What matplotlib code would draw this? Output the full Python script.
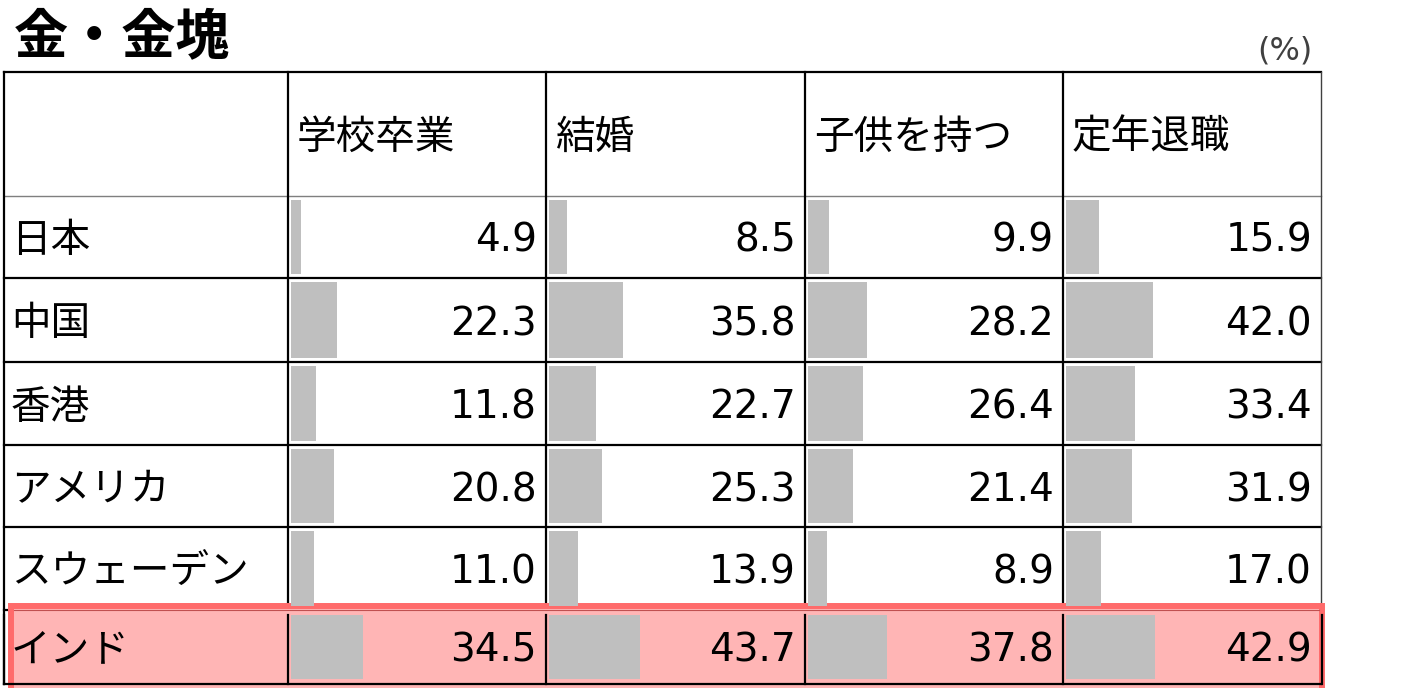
import matplotlib
matplotlib.use("Agg")
import matplotlib.pyplot as plt
from matplotlib.patches import Rectangle

plt.rcParams['font.family'] = ['Noto Sans CJK JP', 'DejaVu Sans']

# data
title = '金・金塊'
unit = '(%)'
countries = ['日本', '中国', '香港', 'アメリカ', 'スウェーデン', 'インド']
events = ['学校卒業', '結婚', '子供を持つ', '定年退職']
school = [4.9, 22.3, 11.8, 20.8, 11.0, 34.5]
marriage = [8.5, 35.8, 22.7, 25.3, 13.9, 43.7]
children = [9.9, 28.2, 26.4, 21.4, 8.9, 37.8]
retire = [15.9, 42.0, 33.4, 31.9, 17.0, 42.9]
series = [school, marriage, children, retire]
highlight = 'インド'

# layout (pixel space)
W, H = 1411, 688
col_edges = [4, 288, 546, 805, 1063, 1321]
row_edges = [72, 196, 278, 362, 445, 527, 610, 684]
px_per_pct = 2.08
bar_color = '#bfbfbf'
fs = 28.5

fig = plt.figure(figsize=(W / 100, H / 100), dpi=100)
ax = fig.add_axes([0, 0, 1, 1])
ax.set_xlim(0, W)
ax.set_ylim(H, 0)
ax.axis('off')

left, right = col_edges[0], col_edges[-1]
top, bottom = row_edges[0], row_edges[-1]
hi = countries.index(highlight)

# grid
ax.plot([left, right], [top, top], color='black', lw=1.6, zorder=1)
ax.plot([left, right], [row_edges[1]] * 2, color='#7f7f7f', lw=1.0, zorder=1)
for y in row_edges[2:-1]:
    ax.plot([left, right], [y, y], color='black', lw=1.6, zorder=1)
for x in col_edges[1:-1]:
    ax.plot([x, x], [top, bottom], color='black', lw=1.6, zorder=1)
ax.plot([right, right], [top, bottom], color='#404040', lw=1.0, zorder=1)
ax.plot([left, left], [top, bottom], color='black', lw=1.6, zorder=1)

# highlighted row
r0, r1 = row_edges[hi + 1], row_edges[hi + 2]
ax.add_patch(Rectangle((11, r0 - 4), 1311, r1 - r0 + 12, facecolor='#ffb5b5',
                       edgecolor='#ff6b6b', lw=4.3, zorder=2))
ax.plot([14, 1319], [r0, r0], color='#c05050', lw=0.8, zorder=2.5)
for x in col_edges[1:-1]:
    ax.plot([x, x], [r0 + 5, r1], color='black', lw=1.6, zorder=3)
ax.plot([right + 1, right + 1], [r0 + 5, r1], color='black', lw=1.6, zorder=3)
ax.plot([left, right], [bottom, bottom], color='black', lw=1.6, zorder=3)
ax.plot([left, left], [r0 + 5, bottom], color='black', lw=1.6, zorder=3)

# bars and values
for j, vals in enumerate(series):
    x0 = col_edges[j + 1] + 3
    for i, v in enumerate(vals):
        ya, yb = row_edges[i + 1], row_edges[i + 2]
        if i == hi:
            ya, yb = ya + 5, yb - 5
        else:
            ya, yb = ya + 3.5, yb - 4
        ax.barh((ya + yb) / 2, v * px_per_pct, height=yb - ya, left=x0,
                color=bar_color, zorder=4)
        ax.text(col_edges[j + 2] - 9, (row_edges[i + 1] + row_edges[i + 2]) / 2 + 15,
                f'{v:.1f}', ha='right', va='baseline', fontsize=28,
                family='DejaVu Sans', zorder=5)

# headers and row labels
hy = (row_edges[0] + row_edges[1]) / 2 + 3.5
for j, ev in enumerate(events):
    ax.text(col_edges[j + 1] + 9, hy, ev, ha='left', va='center', fontsize=fs, zorder=5)
for i, c in enumerate(countries):
    ax.text(left + 7, (row_edges[i + 1] + row_edges[i + 2]) / 2 + 4, c, ha='left',
            va='center', fontsize=fs, zorder=5)

ax.text(14, 38, title, ha='left', va='center', fontsize=39, fontweight='bold')
ax.text(1312, 51, unit, ha='right', va='center', fontsize=23, color='#404040',
        family='DejaVu Sans')

fig.savefig('out.png', dpi=100)
